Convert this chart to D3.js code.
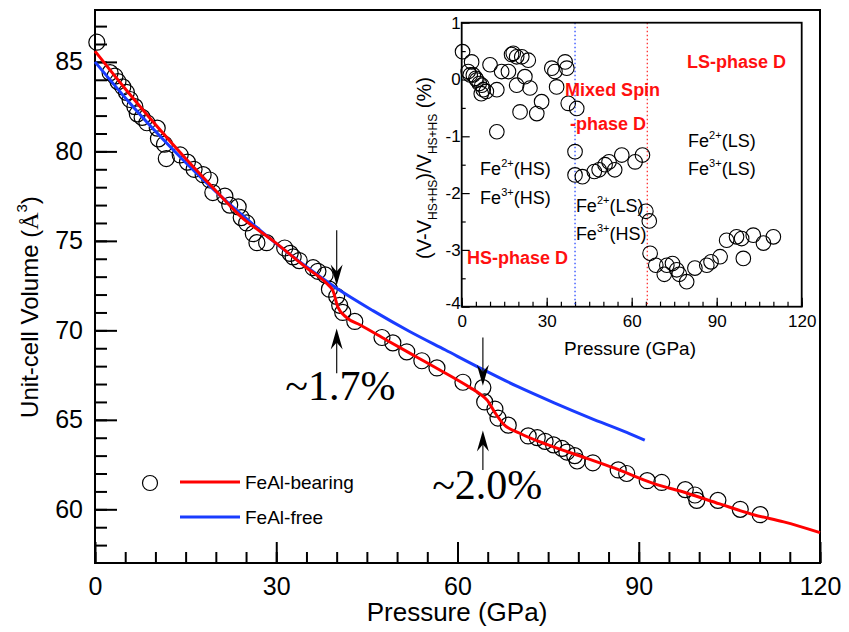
<!DOCTYPE html>
<html lang="en">
<head>
<meta charset="utf-8">
<title>Unit-cell volume vs pressure</title>
<script src="https://cdn.jsdelivr.net/npm/d3@7"></script>
<style>
body { margin: 0; background: #fff; }
svg { font-family: "Liberation Sans", Arial, sans-serif; }
</style>
</head>
<body>
<div id="chart"></div>
<script>

// measured unit-cell volumes (circles)
var volP = [0.3,2.5,3.3,3.8,4.6,5.2,5.8,6.6,7.0,7.8,8.6,10.3,10.5,11.5,11.8,14.1,15.3,16.4,17.9,19.0,19.5,21.5,22.3,23.7,24.2,25.1,26.2,26.8,28.4,31.4,32.3,32.8,33.8,36.1,36.9,38.1,38.8,40.0,40.5,41.0,43.0,47.5,49.3,51.6,54.1,56.6,60.9,64.2,64.5,66.2,66.7,68.4,71.7,73.2,74.5,75.9,77.3,78.1,79.4,79.8,82.4,86.6,88.0,91.4,93.8,97.7,99.3,99.6,103.1,106.8,110.1]
var volV = [86.1,84.4,84.2,83.9,83.6,83.3,82.9,82.5,82.1,81.9,81.6,81.3,80.7,80.4,79.6,79.8,79.4,79.0,78.7,78.4,77.7,77.5,77.0,76.9,76.3,76.0,75.4,74.9,74.9,74.6,74.3,74.1,73.9,73.5,73.3,73.1,72.3,71.9,71.4,71.0,70.5,69.6,69.3,68.8,68.3,67.9,67.1,66.8,66.0,65.6,65.1,64.7,64.1,64.0,63.8,63.6,63.4,63.2,63.0,62.7,62.6,62.2,62.0,61.6,61.5,61.1,60.8,60.5,60.5,60.0,59.7]

// FeAl-bearing fit (red)
var bearingP = [0,5,10,15,20,24,29.5,35,38.4,39.4,40.2,41.7,43.9,48.3,53.3,57,62.1,63.5,64.9,66.2,67.5,70.3,75,81.4,86,92.4,98,103.4,109,114,120]
var bearingV = [85.6,83.5,81.5,79.6,77.8,76.4,75.0,73.5,72.6,72.2,71.3,70.7,70.3,69.45,68.5,67.8,66.8,66.5,66.1,65.4,64.8,64.25,63.6,62.85,62.3,61.45,60.9,60.3,59.7,59.3,58.7]

// FeAl-free fit (blue)
var freeP = [0,5,10,15,20,25,30,35,40,46,52,58,64,70,76,82,88,91]
var freeV = [85.0,83.0,81.12,79.38,77.75,76.25,74.85,73.55,72.35,71.1,69.95,68.9,67.85,66.85,65.95,65.1,64.3,63.86]

// inset: volume deviation (%)
var insetP = [0.3,3.5,2.3,3.0,4.1,5.0,5.3,6.2,7.1,7.6,6.9,8.7,10.0,12.4,14.1,16.5,17.6,18.2,19.4,21.2,23.5,22.3,19.4,24.1,28.2,20.6,26.5,12.4,31.8,32.9,33.5,36.5,37.1,37.6,40.6,40.0,40.0,42.6,46.8,48.5,50.6,52.0,54.0,56.5,61.2,63.8,65.0,66.2,66.5,68.5,71.5,72.4,74.4,75.9,76.8,79.4,82.3,86.5,88.0,91.2,93.5,97.0,98.8,99.4,102.9,106.5,110.0]
var insetDev = [0.49,0.31,0.14,0.08,0.08,0.02,-0.01,-0.07,-0.10,-0.18,-0.25,-0.21,0.26,-0.18,0.14,0.14,0.44,0.46,0.40,0.40,0.34,0.05,-0.10,-0.15,-0.39,-0.57,-0.60,-0.92,0.20,0.14,-0.13,0.31,0.20,-0.42,-0.51,-1.27,-1.68,-1.71,-1.62,-1.59,-1.50,-1.45,-1.59,-1.33,-1.45,-1.33,-2.32,-2.49,-3.06,-3.27,-3.43,-3.27,-3.24,-3.35,-3.43,-3.56,-3.32,-3.27,-3.21,-3.12,-2.83,-2.77,-2.80,-3.15,-2.74,-2.88,-2.77]

var xTicks = [0,30,60,90,120]
var yTicks = [60,65,70,75,80,85]
var insetXTicks = [0,30,60,90,120]
var insetYTicks = [-4,-3,-2,-1,0,1]
var spinBounds = [40, 65.5]

var w = 849
var h = 632

var svg = d3.select("#chart")
	.append("svg")
	.attr("width", w)
	.attr("height", h)

var xScale = d3.scaleLinear().domain([0,120]).range([95,820])
var yScale = d3.scaleLinear().domain([57,87.9]).range([563,10])

function plain(d) { return String(d) }

function styleAxis(g, width, size) {
	g.select(".domain").remove()
	g.selectAll("line").attr("stroke","#000").attr("stroke-width",width)
	g.selectAll("text").attr("font-size",size).attr("fill","#000")
		.attr("font-family","'Liberation Sans', Arial, sans-serif")
}

// main axes: minor then major ticks, all pointing inwards
svg.append("g").attr("transform","translate(0,563)")
	.call(d3.axisBottom(xScale).tickValues(d3.range(0,121,5)).tickSize(-11).tickFormat(""))
	.call(styleAxis, 2, 25)
svg.append("g").attr("transform","translate(0,563)")
	.call(d3.axisBottom(xScale).tickValues(xTicks).tickSizeInner(-21).tickSizeOuter(0).tickPadding(14).tickFormat(plain))
	.call(styleAxis, 2, 25)
svg.append("g").attr("transform","translate(95,0)")
	.call(d3.axisLeft(yScale).tickValues(d3.range(58,88,1)).tickSize(-12).tickFormat(""))
	.call(styleAxis, 2, 25)
svg.append("g").attr("transform","translate(95,0)")
	.call(d3.axisLeft(yScale).tickValues(yTicks).tickSizeInner(-22).tickSizeOuter(0).tickPadding(12).tickFormat(plain))
	.call(styleAxis, 2, 25)

svg.append("rect")
	.attr("x",95).attr("y",10).attr("width",725).attr("height",553)
	.attr("fill","none").attr("stroke","#000").attr("stroke-width",2)

svg.append("text")
	.attr("x",457).attr("y",621)
	.attr("text-anchor","middle").attr("font-size",26)
	.text("Pressure (GPa)")

var yTitle = svg.append("text")
	.attr("transform","translate(38,307) rotate(-90)")
	.attr("text-anchor","middle").attr("font-size",24)
yTitle.append("tspan").text("Unit-cell Volume (")
yTitle.append("tspan").attr("font-family","'Liberation Serif', 'Times New Roman', serif").text("Å")
yTitle.append("tspan").attr("font-size",15).attr("dy",-11).text("3")
yTitle.append("tspan").attr("dy",11).text(")")

// data and fits
svg.selectAll("circle.vol")
	.data(d3.zip(volP, volV))
	.enter()
	.append("circle")
	.attr("class","vol")
	.attr("cx", function(d){ return xScale(d[0]) })
	.attr("cy", function(d){ return yScale(d[1]) })
	.attr("r", 8)
	.attr("fill","none")
	.attr("stroke","#000")
	.attr("stroke-width",1.2)

var line = d3.line()
	.x(function(d){ return xScale(d[0]) })
	.y(function(d){ return yScale(d[1]) })
	.curve(d3.curveMonotoneX)

svg.append("path").datum(d3.zip(freeP, freeV))
	.attr("d", line).attr("fill","none").attr("stroke","#1a3cff").attr("stroke-width",3)
svg.append("path").datum(d3.zip(bearingP, bearingV))
	.attr("d", line).attr("fill","none").attr("stroke","#ff0000").attr("stroke-width",3)

// transition arrows
function arrow(p, tailV, tipV) {
	var x0 = xScale(p), y0 = yScale(tailV), y1 = yScale(tipV)
	var dir = y1 > y0 ? 1 : -1
	svg.append("line")
		.attr("x1",x0).attr("x2",x0).attr("y1",y0).attr("y2",y1 - dir*12)
		.attr("stroke","#222").attr("stroke-width",1.3)
	svg.append("path")
		.attr("d","M" + x0 + "," + y1 + " L" + (x0-6) + "," + (y1 - dir*21) +
			" L" + x0 + "," + (y1 - dir*14) + " L" + (x0+6) + "," + (y1 - dir*21) + "Z")
		.attr("fill","#000")
}
arrow(40, 75.6, 72.5)
arrow(40, 67.6, 70.1)
arrow(64.2, 69.6, 66.9)
arrow(64.2, 62.2, 64.4)

svg.append("text").attr("x",xScale(31.5)).attr("y",yScale(66.1))
	.attr("font-family","'Liberation Serif', 'Times New Roman', serif").attr("font-size",42)
	.text("~1.7%")
svg.append("text").attr("x",xScale(55.8)).attr("y",yScale(60.6))
	.attr("font-family","'Liberation Serif', 'Times New Roman', serif").attr("font-size",42)
	.text("~2.0%")

// legend
svg.append("circle").attr("cx",150).attr("cy",483).attr("r",7.5)
	.attr("fill","none").attr("stroke","#000").attr("stroke-width",1.2)
svg.append("line").attr("x1",180).attr("x2",240).attr("y1",482).attr("y2",482)
	.attr("stroke","#ff0000").attr("stroke-width",3)
svg.append("line").attr("x1",180).attr("x2",240).attr("y1",517).attr("y2",517)
	.attr("stroke","#1a3cff").attr("stroke-width",3)
svg.append("text").attr("x",245).attr("y",489).attr("font-size",19).text("FeAl-bearing")
svg.append("text").attr("x",245).attr("y",524).attr("font-size",19).text("FeAl-free")

// ---- inset ----
var ix = d3.scaleLinear().domain([0,120]).range([461.7,801.7])
var iy = d3.scaleLinear().domain([-4,1]).range([306.7,22.7])

svg.append("rect").attr("x",461.7).attr("y",22.7).attr("width",340).attr("height",284)
	.attr("fill","#fff")

svg.append("g").attr("transform","translate(0,306.7)")
	.call(d3.axisBottom(ix).tickValues(d3.range(0,121,5)).tickSize(-5).tickFormat(""))
	.call(styleAxis, 1.2, 17)
svg.append("g").attr("transform","translate(0,306.7)")
	.call(d3.axisBottom(ix).tickValues(insetXTicks).tickSizeInner(-9).tickSizeOuter(0).tickPadding(8).tickFormat(plain))
	.call(styleAxis, 1.2, 17)
svg.append("g").attr("transform","translate(461.7,0)")
	.call(d3.axisLeft(iy).tickValues(d3.range(-3.5,1,1)).tickSize(-4).tickFormat(""))
	.call(styleAxis, 1.2, 17)
var iyAxis = svg.append("g").attr("transform","translate(461.7,0)")
	.call(d3.axisLeft(iy).tickValues(insetYTicks).tickSizeInner(-8).tickSizeOuter(0).tickPadding(1).tickFormat(plain))
	.call(styleAxis, 1.2, 17)
// lift the bottom label a little so it clears the "0" below it
iyAxis.selectAll("text").filter(function(d){ return d == -4 }).attr("dy","0.1em")

svg.selectAll("line.bound")
	.data(spinBounds)
	.enter()
	.append("line")
	.attr("class","bound")
	.attr("x1", function(d){ return ix(d) }).attr("x2", function(d){ return ix(d) })
	.attr("y1", 22.7).attr("y2", 306.7)
	.attr("stroke", function(d,i){ return i == 0 ? "#1a3cff" : "#ff2020" })
	.attr("stroke-width",1.2)
	.attr("stroke-dasharray","1.5,2.5")

svg.selectAll("circle.dev")
	.data(d3.zip(insetP, insetDev))
	.enter()
	.append("circle")
	.attr("class","dev")
	.attr("cx", function(d){ return ix(d[0]) })
	.attr("cy", function(d){ return iy(d[1]) })
	.attr("r", 7.3)
	.attr("fill","none")
	.attr("stroke","#000")
	.attr("stroke-width",1.1)

svg.append("rect").attr("x",461.7).attr("y",22.7).attr("width",340).attr("height",284)
	.attr("fill","none").attr("stroke","#000").attr("stroke-width",1.8)

svg.append("text").attr("x",630).attr("y",355)
	.attr("text-anchor","middle").attr("font-size",19).text("Pressure (GPa)")

var iyTitle = svg.append("text")
	.attr("transform","translate(431,168) rotate(-90)")
	.attr("text-anchor","middle").attr("font-size",20)
iyTitle.append("tspan").text("(V-V")
iyTitle.append("tspan").attr("font-size",12).attr("dy",6).text("HS+HS")
iyTitle.append("tspan").attr("dy",-6).text(")/V")
iyTitle.append("tspan").attr("font-size",12).attr("dy",6).text("HS+HS")
iyTitle.append("tspan").attr("dy",-6).text(" (%)")

// phase labels
var phaseLabels = [["LS-phase D",79.5,0.20],["Mixed Spin",36.5,-0.29],["-phase D",38.2,-0.89],["HS-phase D",1.9,-3.25]]
svg.selectAll("text.phase")
	.data(phaseLabels)
	.enter()
	.append("text")
	.attr("class","phase")
	.attr("x", function(d){ return ix(d[1]) })
	.attr("y", function(d){ return iy(d[2]) })
	.attr("font-size",18).attr("font-weight","bold").attr("fill","#ff1010")
	.text(function(d){ return d[0] })

var spinLabels = [["2+","HS",6.5,-1.68],["3+","HS",6.5,-2.19],["2+","LS",40.3,-2.34],["3+","HS",40.3,-2.83],["2+","LS",79.9,-1.19],["3+","LS",79.9,-1.68]]
spinLabels.forEach(function(d){
	var t = svg.append("text").attr("x",ix(d[2])).attr("y",iy(d[3])).attr("font-size",18)
	t.append("tspan").text("Fe")
	t.append("tspan").attr("font-size",11).attr("dy",-8).text(d[0])
	t.append("tspan").attr("dy",8).text("(" + d[1] + ")")
})

</script>
</body>
</html>
